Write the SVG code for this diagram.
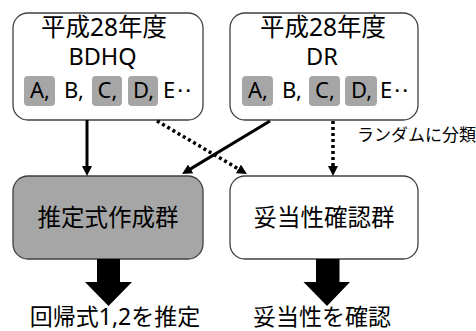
<svg xmlns="http://www.w3.org/2000/svg" width="476" height="331" viewBox="0 0 476 331">
<defs>
<style>
text{font-family:"Noto Sans","Noto Sans CJK JP",sans-serif;fill:#000;text-anchor:middle}
.box{stroke:#404040;stroke-width:1.3}
.pill{fill:#a6a6a6}
.t{font-size:24.5px}
.l{font-size:23.5px}
.v{font-size:22px}
.e{text-anchor:start;letter-spacing:2px}
.m{font-size:23.5px}
.b{font-size:23px}
.s{font-size:17px;text-anchor:start}
.solid{stroke:#000;stroke-width:3;fill:none}
.dot{stroke:#000;stroke-width:3.5;fill:none;stroke-dasharray:3 3}
</style>
<marker id="ah" viewBox="0 0 10 10" refX="2" refY="5" markerWidth="10" markerHeight="10" markerUnits="userSpaceOnUse" orient="auto">
<path d="M0,0 L10,5 L0,10 z" fill="#000"/>
</marker>
</defs>
<rect width="476" height="331" fill="#fff"/>

<g id="bdhq">
<rect class="box" x="13" y="13" width="190" height="107" rx="15" fill="#fff"/>
<text class="t" x="104" y="36">平成28年度</text>
<text class="l" x="102.5" y="65">BDHQ</text>
<rect class="pill" x="24" y="76" width="31" height="30" rx="4"/>
<rect class="pill" x="92" y="76" width="30" height="30" rx="4"/>
<rect class="pill" x="128" y="76" width="30" height="30" rx="4"/>
<text class="v" x="40" y="98">A,</text>
<text class="v" x="74" y="98">B,</text>
<text class="v" x="107.5" y="98">C,</text>
<text class="v" x="143.5" y="98">D,</text>
<text class="v e" x="163" y="98">E··</text>
</g>

<g id="dr">
<rect class="box" x="230" y="13" width="188" height="107" rx="15" fill="#fff"/>
<text class="t" x="323" y="36">平成28年度</text>
<text class="l" x="322" y="65">DR</text>
<rect class="pill" x="242" y="76" width="31" height="30" rx="4"/>
<rect class="pill" x="309" y="76" width="31" height="30" rx="4"/>
<rect class="pill" x="345" y="76" width="32" height="30" rx="4"/>
<text class="v" x="258" y="98">A,</text>
<text class="v" x="292" y="98">B,</text>
<text class="v" x="325" y="98">C,</text>
<text class="v" x="361.5" y="98">D,</text>
<text class="v e" x="380" y="98">E··</text>
</g>

<g id="estimation">
<rect class="box" x="13" y="176" width="190" height="83" rx="15" fill="#a6a6a6"/>
<text class="m" x="108" y="226">推定式作成群</text>
</g>

<g id="validation">
<rect class="box" x="230" y="176" width="188" height="83" rx="15" fill="#fff"/>
<text class="m" x="324" y="226">妥当性確認群</text>
</g>

<g id="connectors">
<path class="solid" d="M87,120 L87,168" marker-end="url(#ah)"/>
<path class="solid" d="M270,121 L188.9,169.9" marker-end="url(#ah)"/>
<path class="dot" d="M157,121 L240.1,169.9" marker-end="url(#ah)"/>
<path class="dot" d="M333,121 L333,168" marker-end="url(#ah)"/>
<text class="s" x="357" y="141">ランダムに分類</text>
<polygon points="97,259 120,259 120,282 132,282 108.5,306 85,282 97,282" fill="#000"/>
<polygon points="316,259 339.5,259 339.5,282 350,282 327,306 303.5,282 316,282" fill="#000"/>
</g>

<g id="results">
<text class="b" x="115" y="325">回帰式1,2を推定</text>
<text class="b" x="322" y="325">妥当性を確認</text>
</g>
</svg>
